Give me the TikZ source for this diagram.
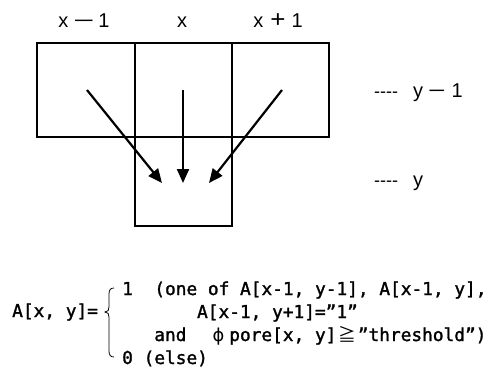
\documentclass[tikz,border=0pt]{standalone}
\usepackage{fontspec}
\usepackage{graphicx}
\setmainfont{Liberation Sans}
\newfontfamily\monof{DejaVu Sans Mono}[FakeBold=1.5]
\newfontfamily\cjkf{Noto Sans CJK JP}
\newfontfamily\grkf{DejaVu Sans}
\usetikzlibrary{arrows.meta}
\newcommand{\lmin}{\scalebox{1.8}[1]{−}}
\newcommand{\wide}[1]{\makebox[21.4pt][c]{#1}}
\tikzset{
  cell/.style={draw, line width=1.6pt, inner sep=0pt, outer sep=0pt},
  arr/.style={line width=2.2pt, -{Triangle[length=14pt,width=12pt]}},
  lab/.style={inner sep=0pt, anchor=base, font=\fontsize{20}{20}\selectfont},
  rlab/.style={inner sep=0pt, anchor=base west, font=\fontsize{20}{20}\selectfont},
  fml/.style={inner sep=0pt, anchor=base west, font=\monof\fontsize{17.8}{20}\selectfont},
  brace/.style={line width=0.8pt}
}
\begin{document}
\begin{tikzpicture}[x=1pt,y=-1pt]
\useasboundingbox (0,0) rectangle (487,367);
% column labels
\node[lab] (lxm) at (84,27) {x\hspace{5pt}\lmin\hspace{4pt}1};
\node[lab] (lx) at (182,27) {x};
\node[lab] (lxp) at (278,27) {x\hspace{7pt}\scalebox{1.3}[1.2]{+}\hspace{6pt}1};
% cells
\node[cell, minimum width=98pt, minimum height=94pt] (cL) at (86,90) {};
\node[cell, minimum width=97pt, minimum height=94pt] (cM) at (183.5,90) {};
\node[cell, minimum width=97pt, minimum height=94pt] (cR) at (280.5,90) {};
\node[cell, minimum width=97pt, minimum height=89pt] (cY) at (183.5,181.5) {};
% arrows
\coordinate (sL) at (87,90);
\coordinate (sM) at (183,90);
\coordinate (sR) at (282,90);
\coordinate (tL) at (162,183);
\coordinate (tM) at (183,183);
\coordinate (tR) at (209,183);
\draw[arr] (sL) -- (tL);
\draw[arr] (sM) -- (tM);
\draw[arr] (sR) -- (tR);
% row labels
\node[rlab] (ry1) at (374,97) {{\fontsize{18}{18}\selectfont -{}-{}-{}-}\hspace{15pt}y\hspace{5pt}\scalebox{1.5}[1]{−}\hspace{6pt}1};
\node[rlab] (ry) at (374,186) {{\fontsize{18}{18}\selectfont -{}-{}-{}-}\hspace{15pt}y};
% formula
\node[fml] (fA) at (12,317) {A[x, y]=};
\node[fml] (f1) at (122,295) {1~~(one of A[x-1, y-1], A[x-1, y],};
\node[fml] (f2) at (196.9,318) {A[x-1, y+1]=”1”};
\node[fml] (f3) at (154.1,341) {and~~\wide{\grkf ϕ}pore[x, y]\wide{\cjkf ≧}”threshold”)};
\node[fml] (f4) at (122,364) {0 (else)};
\draw[brace] (114,288) .. controls (110.5,288) and (109,290) .. (109,294) -- (109,307)
  .. controls (109,310) and (108,312) .. (105,312)
  .. controls (108,312) and (109,314) .. (109,317) -- (109,351)
  .. controls (109,355) and (110.5,357) .. (114,357);
\end{tikzpicture}
\end{document}
